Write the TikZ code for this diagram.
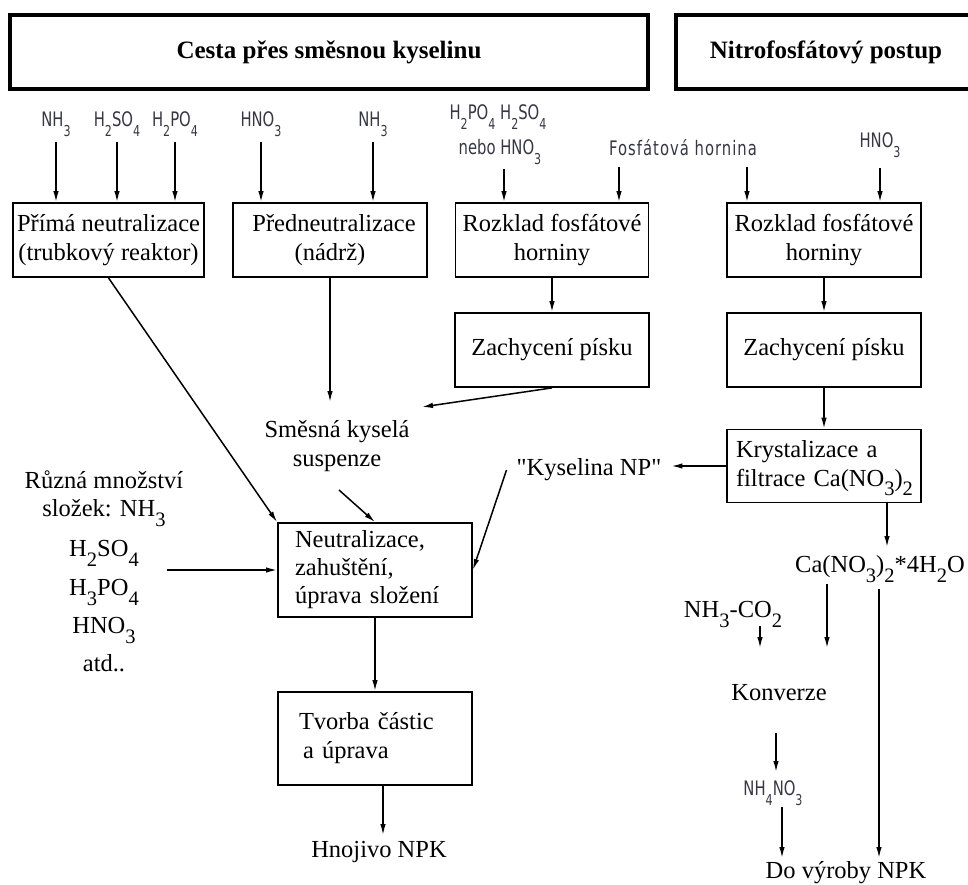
\documentclass[tikz,border=0pt]{standalone}
\usepackage{fontspec}
\setmainfont{Liberation Serif}[Ligatures=TeXOff]
\newfontfamily\isofont[FakeStretch=0.74]{DejaVu Sans}
\usetikzlibrary{arrows.meta,calc}
\definecolor{isogray}{RGB}{55,55,68}
\newcommand\isub[1]{\raisebox{-10pt}{\fontsize{15}{15}\selectfont #1}}
\newcommand\ssub[1]{\raisebox{-9.5pt}[0pt][0pt]{\fontsize{20.5}{20.5}\selectfont #1}}
\begin{document}
\begin{tikzpicture}[x=1pt,y=-1pt,
  every node/.style={font=\fontsize{24.5}{29}\selectfont, inner sep=0pt},
  box/.style={draw, line width=1.8pt, minimum width=194pt, minimum height=74pt, align=center},
  lbox/.style={box, align=left},
  titlebox/.style={draw, line width=4pt, minimum height=74pt, font=\fontsize{25}{30}\selectfont\bfseries},
  iso/.style={font=\isofont\fontsize{20}{24}\selectfont, text=isogray, anchor=base},
  arr/.style={line width=1.5pt, -{Latex[length=11pt,width=5.5pt]}}
]
\useasboundingbox (0,0) rectangle (968,885);

% titles
\node[titlebox, minimum width=638pt] (t1) at (329,52) {Cesta přes směsnou kyselinu};
\node[titlebox, minimum width=300pt] (t2) at (826,52) {Nitrofosfátový postup};

% input labels
\node[iso] (l1) at (56,127) {NH\isub{3}};
\node[iso] (l2) at (117,127) {H\isub{2}SO\isub{4}};
\node[iso] (l3) at (175,127) {H\isub{2}PO\isub{4}};
\node[iso] (l4) at (261,127) {HNO\isub{3}};
\node[iso] (l5) at (373,127) {NH\isub{3}};
\node[iso] (l6) at (498,120) {H\isub{2}PO\isub{4} H\isub{2}SO\isub{4}};
\node[iso] (l7) at (500,155) {nebo HNO\isub{3}};
\node[iso] (l8) at (683,156) {\addfontfeature{LetterSpace=5}Fosfátová hornina};
\node[iso] (l9) at (880,148) {HNO\isub{3}};

% boxes
\node[box, minimum width=191pt] (b1) at (108.5,240) {Přímá neutralizace\\(trubkový reaktor)};
\node[box] (b2) at (330,240) {\hspace*{8pt}Předneutralizace\\(nádrž)};
\node[box, minimum width=193pt] (b3) at (552,240) {Rozklad fosfátové\\horniny};
\node[box] (b4) at (824,240) {Rozklad fosfátové\\horniny};
\node[box] (z1) at (552,350) {Zachycení písku};
\node[box] (z2) at (824,350) {Zachycení písku};
\node[lbox, minimum height=73pt, text width=176pt, inner xsep=9pt] (kr) at (824,466)
  {Krystalizace a\\\mbox{filtrace Ca(NO\ssub{3})\ssub{2}}};
\node[lbox, minimum height=94pt, text width=160pt, inner xsep=17pt,
  font=\fontsize{24.5}{28}\selectfont] (nz) at (375,570)
  {Neutralizace,\\zahuštění,\\úprava složení};
\node[lbox, minimum height=93pt, text width=152pt, inner xsep=21pt] (tv) at (375,738.5)
  {Tvorba částic\\\hspace*{4pt}a úprava};

% free texts
\node[align=center] (susp) at (337,446) {Směsná kyselá\\suspenze};
\node[align=center, anchor=north, font=\fontsize{24.5}{28}\selectfont] (mix) at (104,471)
  {Různá množství\\složek: NH\ssub{3}\\[12pt]H\ssub{2}SO\ssub{4}\\[11pt]H\ssub{3}PO\ssub{4}\\[10pt]HNO\ssub{3}\\[10pt]atd..};
\node (knp) at (589,470) {"Kyselina NP"};
\node (cano) at (880,567) {Ca(NO\ssub{3})\ssub{2}*4H\ssub{2}O};
\node (nhco) at (733,610) {NH\ssub{3}-CO\ssub{2}};
\node (konv) at (779,693) {Konverze};
\node[iso] (nhno) at (773,795) {NH\isub{4}NO\isub{3}};
\node (dovy) at (846,873) {Do výroby NPK};
\node (hnoj) at (379,852) {Hnojivo NPK};

% free arrow ends
\coordinate (sm1) at (330,402);
\coordinate (sm2) at (422,407);
\coordinate (sm3) at (339,490);
\coordinate (e1) at (760,648);
\coordinate (e2) at (827,648);
\coordinate (e3) at (879,858);
\coordinate (e4) at (776,772);
\coordinate (e5) at (782,858);
\coordinate (e6) at (383,835);
\coordinate (e7) at (887,547);

% input arrows
\draw[arr] ([yshift=-5pt]l1.south) -- (l1.south |- b1.north);
\draw[arr] ([yshift=-5pt]l2.south) -- (l2.south |- b1.north);
\draw[arr] ([yshift=-5pt]l3.south) -- (l3.south |- b1.north);
\draw[arr] ([yshift=-5pt]l4.south) -- (l4.south |- b2.north);
\draw[arr] ([yshift=-5pt]l5.south) -- (l5.south |- b2.north);
\draw[arr] ([xshift=4pt,yshift=-4pt]l7.south) -- ([xshift=4pt]l7.south |- b3.north);
\draw[arr] ([xshift=-64pt,yshift=-11pt]l8.south) -- ([xshift=-64pt]l8.south |- b3.north);
\draw[arr] ([xshift=64pt,yshift=-11pt]l8.south) -- ([xshift=64pt]l8.south |- b4.north);
\draw[arr] ([yshift=-10pt]l9.south) -- (l9.south |- b4.north);

% main flow
\draw[arr] (b1.south) -- (nz.north west);
\draw[arr] (b2.south) -- (sm1);
\draw[arr] (b3.south) -- (z1.north);
\draw[arr] (z1.south) -- (sm2);
\draw[arr] (sm3) -- (nz.north);
\draw[arr] ([xshift=-110pt]nz.west) -- (nz.west);
\draw[arr] ([xshift=-10pt]knp.west) -- (nz.east);
\draw[arr] (nz.south) -- (tv.north);
\draw[arr] ([xshift=8pt]tv.south) -- (e6);

\draw[arr] (b4.south) -- (z2.north);
\draw[arr] (z2.south) -- (kr.north);
\draw[arr] (kr.west) -- ([xshift=10pt]knp.east |- kr.west);
\draw[arr] (kr.south -| e7) -- (e7);
\draw[arr] ([yshift=-8pt]nhco.south -| e1) -- (e1);
\draw[arr] ([yshift=-6pt]cano.south -| e2) -- (e2);
\draw[arr] ([yshift=-11pt]cano.south -| e3) -- (e3);
\draw[arr] ([yshift=-32pt]konv.south -| e4) -- (e4);
\draw[arr] ([yshift=-2pt]nhno.south -| e5) -- (e5);
\end{tikzpicture}
\end{document}
